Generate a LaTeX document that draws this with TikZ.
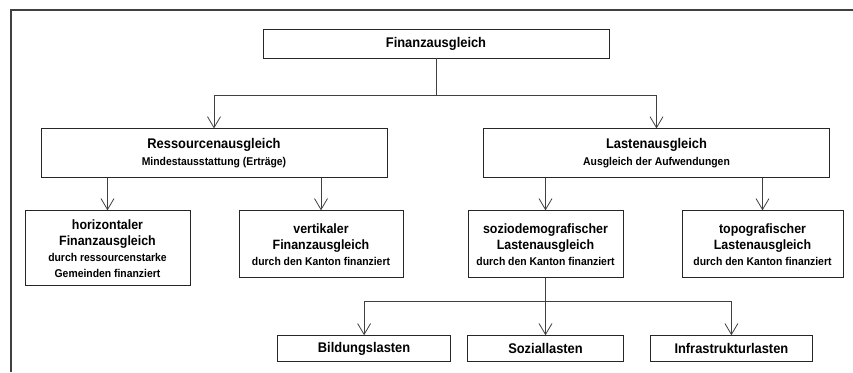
\documentclass[tikz,border=0pt]{standalone}
\usepackage{fontspec}
\setmainfont{Liberation Sans}[FakeStretch=0.92]
\usetikzlibrary{positioning}
\usetikzlibrary{arrows.meta}

\newcommand{\hdfont}{\fontsize{14}{17}\selectfont\bfseries}
\newcommand{\midfont}{\fontsize{13.5}{16}\selectfont\bfseries}
\newcommand{\subfont}{\fontsize{11.3}{13.5}\selectfont\bfseries}

\tikzset{
  box/.style={draw=black!85, line width=0.9pt, align=center, inner sep=0pt, font=\hdfont},
  lvlone/.style={box, minimum width=346pt, minimum height=49pt},
  lvltwo/.style={box, minimum width=161pt, minimum height=67pt, font=\midfont},
  leaf/.style={box, minimum width=160pt, minimum height=26pt},
  conn/.style={draw=black!75, line width=0.8pt},
  arr/.style={conn, -{Straight Barb[length=11pt,width=13pt]}},
}

\begin{document}
\begin{tikzpicture}
\useasboundingbox (0,0) rectangle (853pt,-372pt);
\draw[black!75, line width=1.4pt] (11pt,-372pt) -- (11pt,-10pt) -- (853pt,-10pt);

\node[box, minimum width=346pt, minimum height=29pt] (fa) at (436pt,-43.5pt) {Finanzausgleich};
\node[lvlone, below=70pt of fa, xshift=-222pt] (ra) {Ressourcenausgleich\\\subfont Mindestausstattung (Erträge)};
\node[lvlone, below=70pt of fa, xshift=220.5pt] (la) {Lastenausgleich\\\subfont Ausgleich der Aufwendungen};

\node[lvltwo, below=32pt of ra, xshift=-106.5pt, minimum width=165pt, minimum height=75pt] (hfa)
  {horizontaler\\Finanzausgleich\\\subfont durch ressourcenstarke\\\subfont Gemeinden finanziert};
\node[lvltwo, below=32pt of ra, xshift=107pt, minimum width=164pt] (vfa)
  {vertikaler\\Finanzausgleich\\\subfont durch den Kanton finanziert};
\node[lvltwo, below=32pt of la, xshift=-111pt, minimum width=155pt] (sla)
  {soziodemografischer\\Lastenausgleich\\\subfont durch den Kanton finanziert};
\node[lvltwo, below=32pt of la, xshift=106pt] (tla)
  {topografischer\\Lastenausgleich\\\subfont durch den Kanton finanziert};

\node[leaf, below=57pt of sla, minimum width=156pt] (sol) {Soziallasten};
\node[leaf, left=16pt of sol, minimum width=173pt] (bl) {Bildungslasten};
\node[leaf, right=26pt of sol, minimum width=162pt] (il) {Infrastrukturlasten};

\coordinate[below=37pt of fa.south] (fasplit);
\draw[conn] (fa.south) -- (fasplit);
\draw[arr] (fasplit) -| (ra.north);
\draw[arr] (fasplit) -| (la.north);
\draw[arr] (ra.south -| hfa.north) -- (hfa.north);
\draw[arr] (ra.south -| vfa.north) -- (vfa.north);
\draw[arr] (la.south -| sla.north) -- (sla.north);
\draw[arr] (la.south -| tla.north) -- (tla.north);
\coordinate[below=23pt of sla.south] (slsplit);
\draw[conn] (sla.south) -- (slsplit);
\draw[arr] (slsplit) -| (bl.north);
\draw[arr] (slsplit) -- (sol.north);
\draw[arr] (slsplit) -| (il.north);
\end{tikzpicture}
\end{document}
